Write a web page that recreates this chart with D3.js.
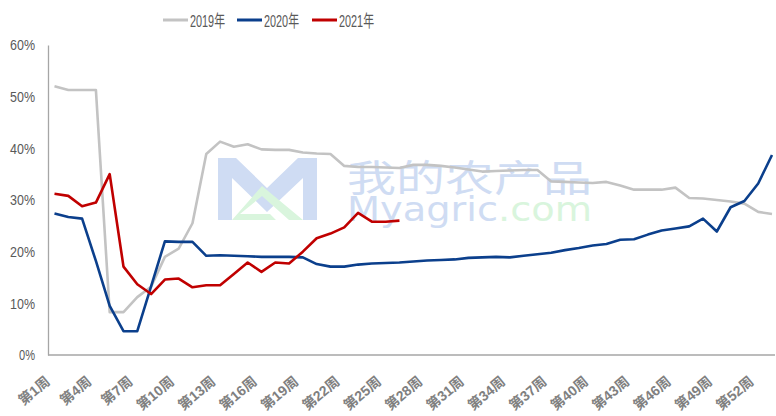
<!DOCTYPE html>
<html><head><meta charset="utf-8">
<script src="https://cdn.jsdelivr.net/npm/d3@7"></script>
<style>
html,body{margin:0;padding:0;background:#fff;}
svg{display:block;}
text{font-family:"Liberation Sans","Noto Sans CJK SC",sans-serif;}
</style></head>
<body>
<svg id="chart" width="776" height="416"></svg>
<script>
const weeks = d3.range(1, 54);
const tickWeeks = [1,4,7,10,13,16,19,22,25,28,31,34,37,40,43,46,49,52];
const yTicks = [0,10,20,30,40,50,60];
const seriesNames = ["2019年","2020年","2021年"];
const seriesColors = ["#c3c3c3","#0b3f8c","#c00000"];

const s2019 = [52.0,51.3,51.3,51.3,8.3,8.3,11.2,13.2,19.0,20.6,25.5,38.9,41.3,40.3,40.8,39.8,39.7,39.7,39.2,39.0,38.9,36.6,36.4,36.4,36.3,36.2,36.8,36.8,36.6,36.3,35.9,35.5,35.6,35.7,35.8,35.8,33.6,33.5,33.4,33.3,33.5,32.8,32.0,32.0,32.0,32.4,30.4,30.3,30.0,29.7,29.3,27.7,27.3];
const s2020 = [27.4,26.7,26.4,18.2,9.5,4.6,4.6,13.3,22.0,21.9,21.9,19.2,19.3,19.2,19.1,19.0,19.0,19.0,18.9,17.6,17.1,17.1,17.5,17.7,17.8,17.9,18.1,18.3,18.4,18.5,18.8,18.9,19.0,18.9,19.2,19.5,19.8,20.3,20.7,21.2,21.5,22.3,22.4,23.3,24.1,24.5,24.9,26.4,23.9,28.6,29.8,33.2,38.7];
const s2021 = [31.2,30.8,28.8,29.5,35.0,17.1,13.7,11.8,14.6,14.8,13.1,13.5,13.5,15.7,17.9,16.1,17.9,17.7,20.0,22.6,23.5,24.7,27.5,25.8,25.8,26.0];

const svg = d3.select("#chart");
const x = d3.scalePoint().domain(weeks).range([54.5, 772]);
const y = d3.scaleLinear().domain([0, 60]).range([355, 45]);
const textColor = "#595959";

// watermark
const wm = svg.append("g").attr("class","watermark");
wm.append("path")
  .attr("d","M218,158 L236,158 L267,188 L298,158 L317,158 L317,220 L303,220 L303,178 L267,212 L232,178 L232,220 L218,220 Z")
  .attr("fill","#cfdcf3");
wm.append("path")
  .attr("d","M232,220 L262,186 L303,220 L289,220 L262,196 L240,214 L270,214 L276,220 Z")
  .attr("fill","#d9f5dd");
wm.append("text").attr("x",347).attr("y",192).attr("font-size",37)
  .attr("textLength",245).attr("lengthAdjust","spacingAndGlyphs")
  .attr("fill","#cfdcf3").style("font-family","'Noto Sans CJK SC',sans-serif").text("我的农产品");
const wt = wm.append("text").attr("x",347).attr("y",221).attr("font-size",33)
  .attr("textLength",245).attr("lengthAdjust","spacingAndGlyphs")
  .style("font-family","'DejaVu Sans',sans-serif");
wt.append("tspan").attr("fill","#cfdcf3").text("Myagric");
wt.append("tspan").attr("fill","#d9f5dd").text(".com");

// axes
const yAxis = d3.axisLeft(y).tickValues(yTicks).tickSize(0).tickPadding(13).tickFormat(d => d + "%");
const gy = svg.append("g").attr("transform","translate(48,0)").call(yAxis);
gy.select(".domain").attr("stroke","#a6a6a6").attr("stroke-width",1.3);
gy.selectAll("text").attr("fill",textColor).attr("font-size",15)
  .attr("textLength", d => d === 0 ? 16 : 25).attr("lengthAdjust","spacingAndGlyphs")
  .style("font-family","'Liberation Sans',sans-serif");

// x axis via d3.axisBottom with rotated labels
const xAxis = d3.axisBottom(x).tickValues(tickWeeks).tickSize(0).tickPadding(0).tickFormat(d => "第" + d + "周");
const gx = svg.append("g").attr("transform","translate(0," + y(0) + ")").call(xAxis);
gx.select(".domain").remove();
gx.append("line").attr("x1",48).attr("x2",775).attr("y1",0).attr("y2",0)
  .attr("stroke","#a6a6a6").attr("stroke-width",1.3);
gx.selectAll(".tick text")
  .attr("x",0).attr("y",0).attr("dy",null)
  .style("text-anchor","end")
  .style("transform","translate(-4px, 28px) rotate(-40deg)")
  .attr("fill","#808080").attr("font-size",14).attr("font-weight","bold")
  .style("font-family","'Liberation Sans','Noto Sans CJK SC',sans-serif");

// lines
const line = d3.line().x((d,i) => x(weeks[i])).y(d => y(d));
[s2019, s2020, s2021].forEach((s, k) => {
  svg.append("path").datum(s).attr("d", line)
    .attr("fill","none").attr("stroke", seriesColors[k]).attr("stroke-width",2.6)
    .attr("stroke-linejoin","round");
});

// legend
const legendX = [163, 237, 312];
const lg = svg.append("g");
seriesNames.forEach((n, k) => {
  lg.append("line").attr("x1",legendX[k]).attr("x2",legendX[k]+25).attr("y1",20).attr("y2",20)
    .attr("stroke",seriesColors[k]).attr("stroke-width",3);
  lg.append("text").attr("x",legendX[k]+27).attr("y",26.5).attr("font-size",17)
    .attr("textLength",35).attr("lengthAdjust","spacingAndGlyphs")
    .attr("fill",textColor).text(n);
});
</script>
</body></html>
